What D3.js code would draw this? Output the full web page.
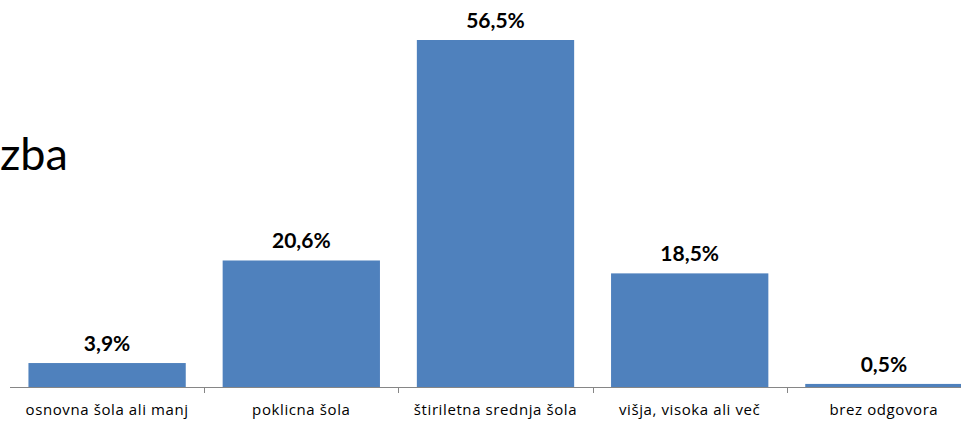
<!DOCTYPE html>
<html>
<head>
<meta charset="utf-8">
<script src="https://cdn.jsdelivr.net/npm/d3@7"></script>
<style>
  body { margin: 0; background: #fff; }
  svg { display: block; font-family: Lato, "Open Sans", sans-serif; }
</style>
</head>
<body>
<div class="chart"></div>
<script>
var categories = ["osnovna šola ali manj", "poklicna šola", "štiriletna srednja šola", "višja, visoka ali več", "brez odgovora"];
var values = [3.9, 20.6, 56.5, 18.5, 0.5];
var titleFragment = "zba";

var w = 961;
var h = 421;
var baseY = 387;

var svg = d3.select(".chart")
  .append("svg")
  .attr("width", w)
  .attr("height", h);

// band scale runs past the right edge, like the clipped original
var x = d3.scaleBand()
  .domain(categories)
  .range([10, 981])
  .paddingInner(0.19)
  .paddingOuter(0.095);

var y = d3.scaleLinear()
  .domain([0, 56.5])
  .range([baseY, 40]);

svg.append("text")
  .attr("x", 0)
  .attr("y", 170)
  .attr("font-size", 45)
  .attr("fill", "#000")
  .text(titleFragment);

svg.selectAll("rect")
  .data(values)
  .enter()
  .append("rect")
  .attr("x", function(d, i) { return x(categories[i]); })
  .attr("y", function(d) { return y(d); })
  .attr("width", x.bandwidth())
  .attr("height", function(d) { return baseY - y(d); })
  .attr("fill", "#4F81BD");

var step = x.step();

svg.append("line")
  .attr("x1", 10).attr("x2", w)
  .attr("y1", baseY + 0.5).attr("y2", baseY + 0.5)
  .attr("stroke", "#868686");

svg.selectAll("line.tick")
  .data(categories.slice(1))
  .enter()
  .append("line")
  .attr("class", "tick")
  .attr("x1", function(d) { return Math.round(x(d) - (step - x.bandwidth()) / 2) + 0.5; })
  .attr("x2", function(d) { return Math.round(x(d) - (step - x.bandwidth()) / 2) + 0.5; })
  .attr("y1", baseY)
  .attr("y2", baseY + 6)
  .attr("stroke", "#868686");

svg.selectAll("text.cat")
  .data(categories)
  .enter()
  .append("text")
  .attr("class", "cat")
  .attr("x", function(d) { return x(d) + x.bandwidth() / 2; })
  .attr("y", 415)
  .attr("text-anchor", "middle")
  .attr("font-family", "'Open Sans', sans-serif")
  .attr("font-size", 15)
  .attr("letter-spacing", 0.6)
  .attr("fill", "#000")
  .text(function(d) { return d; });

svg.selectAll("text.val")
  .data(values)
  .enter()
  .append("text")
  .attr("class", "val")
  .attr("x", function(d, i) { return x(categories[i]) + x.bandwidth() / 2; })
  .attr("y", function(d) { return y(d) - 12; })
  .attr("text-anchor", "middle")
  .attr("font-size", 21)
  .attr("font-weight", "bold")
  .attr("fill", "#000")
  .text(function(d) { return String(d.toFixed(1)).replace(".", ",") + "%"; });
</script>
</body>
</html>
